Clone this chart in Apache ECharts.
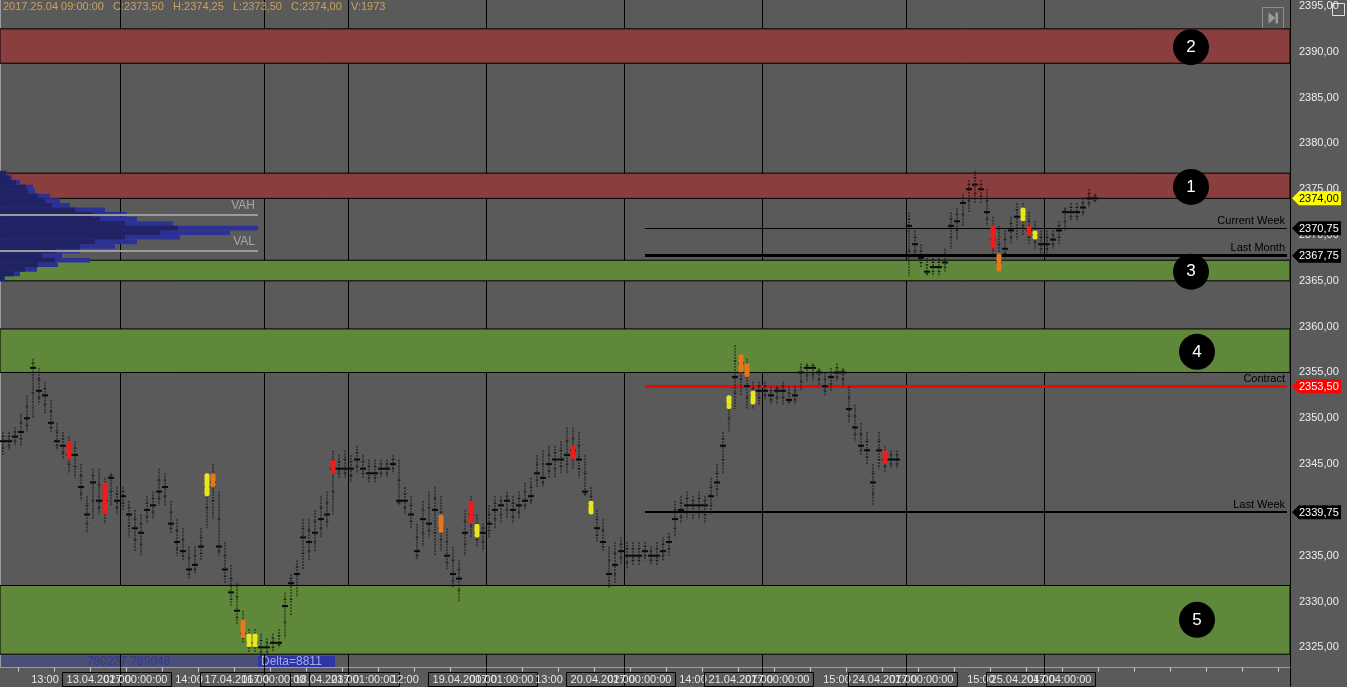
<!DOCTYPE html>
<html><head><meta charset="utf-8">
<script src="https://cdn.jsdelivr.net/npm/echarts/dist/echarts.min.js"></script>
<style>html,body{margin:0;padding:0;background:#5a5a5a;}#c{width:1347px;height:687px;}</style>
</head><body><div id="c"></div>
<script>
// ---------- data ----------
const slotCount = 215;
const lows = [
 2346.0,2346.5,2347.0,2347.0,2348.5,2350.0,2351.5,2350.5,2348.5,2346.5,
 2345.5,2344.0,2343.5,2341.0,2337.5,2339.0,2339.5,2338.5,2340.5,2339.5,
 2340.0,2337.0,2335.5,2335.0,2338.5,2339.0,2340.5,2340.5,2337.5,2335.0,
 2334.5,2332.5,2333.0,2334.5,2338.0,2339.0,2335.0,2332.0,2329.5,2327.5,
 2325.5,2324.5,2324.5,2324.0,2324.0,2324.5,2325.0,2326.0,2328.5,2330.5,
 2333.5,2334.5,2335.5,2337.0,2338.0,2339.5,2343.5,2343.5,2343.0,2344.0,
 2343.5,2343.0,2343.0,2343.5,2343.5,2344.0,2340.5,2339.5,2338.0,2334.5,
 2336.0,2337.0,2335.0,2335.5,2333.5,2331.5,2330.0,2335.0,2337.0,2336.0,
 2335.5,2337.0,2338.0,2338.5,2339.0,2338.5,2339.0,2340.0,2340.5,2342.5,
 2342.5,2343.5,2343.5,2344.0,2344.0,2344.5,2343.5,2341.5,2339.5,2336.5,
 2335.5,2331.5,2332.0,2334.0,2333.5,2334.0,2334.0,2334.5,2334.0,2334.0,
 2334.5,2335.0,2337.0,2338.5,2339.0,2339.0,2339.0,2338.5,2339.5,2341.5,
 2344.0,2348.5,2351.0,2352.5,2351.0,2351.0,2351.5,2352.0,2351.5,2351.5,
 2351.5,2351.5,2351.5,2353.0,2354.0,2354.0,2353.5,2352.5,2353.0,2354.0,
 2353.5,2349.5,2347.5,2346.0,2345.0,2340.5,2344.5,2344.0,2344.5,2344.5,
 null,2365.5,2367.5,2366.5,2365.5,2365.5,2365.5,2366.0,2368.5,2369.5,
 2371.0,2372.5,2373.5,2373.5,2371.0,2367.5,2366.0,2367.5,2369.0,2369.5,
 2370.0,2369.0,2368.5,2368.0,2368.0,2368.5,2369.0,2370.5,2371.5,2371.5,
 2372.0,2373.0,2373.5];
const highs = [
 2348.5,2348.5,2349.0,2350.5,2352.5,2356.5,2355.5,2354.0,2352.0,2349.5,
 2348.5,2348.0,2347.5,2345.0,2341.5,2344.5,2344.5,2343.5,2344.0,2342.5,
 2342.5,2341.0,2340.0,2339.5,2341.5,2342.0,2344.5,2344.0,2341.0,2339.0,
 2338.0,2336.0,2336.0,2338.0,2344.0,2345.0,2342.0,2336.5,2334.0,2332.0,
 2329.0,2327.0,2327.0,2326.5,2326.0,2326.5,2327.0,2331.0,2333.0,2334.5,
 2339.0,2339.0,2340.0,2341.5,2342.0,2346.5,2346.0,2346.5,2346.0,2347.0,
 2346.0,2345.5,2345.5,2345.5,2345.5,2346.0,2345.5,2342.5,2341.5,2338.5,
 2341.0,2342.0,2342.5,2341.5,2338.0,2336.0,2334.5,2340.0,2341.5,2339.5,
 2338.5,2340.5,2341.5,2341.5,2342.0,2341.5,2342.0,2343.0,2343.5,2346.0,
 2346.5,2347.0,2347.0,2347.5,2349.0,2349.0,2348.5,2346.0,2342.5,2340.0,
 2339.0,2336.0,2336.5,2337.0,2336.5,2336.5,2336.5,2336.5,2336.0,2336.5,
 2337.0,2337.5,2341.0,2341.5,2342.0,2341.5,2342.0,2341.5,2343.5,2345.0,
 2348.5,2352.5,2358.0,2357.0,2356.5,2354.0,2354.0,2354.0,2353.5,2353.5,
 2354.0,2353.5,2353.5,2356.0,2356.0,2356.0,2355.5,2355.0,2355.5,2356.0,
 2355.5,2353.5,2351.5,2349.5,2348.5,2345.0,2348.5,2347.0,2346.5,2346.5,
 null,2372.5,2370.5,2369.0,2367.5,2367.5,2367.5,2368.5,2372.5,2373.0,
 2374.5,2376.0,2377.0,2376.0,2375.0,2372.0,2371.0,2370.5,2372.0,2373.5,
 2373.5,2372.5,2371.5,2370.5,2370.5,2370.5,2371.5,2373.0,2373.5,2373.5,
 2374.0,2375.0,2374.5];
const closes = [
 2347.5,2347.5,2348.0,2348.5,2350.0,2355.5,2353.0,2352.5,2349.5,2347.5,
 2347.0,2346.0,2346.0,2342.5,2339.5,2343.0,2341.0,2341.0,2343.5,2341.0,
 2341.5,2339.5,2338.0,2337.5,2340.0,2340.5,2342.0,2342.5,2338.5,2336.5,
 2335.5,2333.5,2334.0,2336.0,2342.5,2343.0,2336.0,2333.5,2331.0,2329.0,
 2326.5,2325.5,2325.5,2325.0,2325.0,2325.5,2325.5,2329.5,2332.0,2333.0,
 2337.0,2336.5,2337.5,2339.0,2339.5,2344.5,2344.5,2344.5,2344.5,2345.5,
 2344.5,2344.0,2344.0,2344.5,2344.5,2345.0,2341.0,2341.0,2339.5,2335.5,
 2339.0,2338.5,2340.0,2338.0,2335.0,2333.0,2332.5,2337.5,2339.5,2337.5,
 2337.5,2338.5,2340.0,2340.5,2341.0,2340.0,2340.5,2341.0,2341.5,2344.0,
 2343.5,2345.0,2345.5,2345.5,2346.0,2346.5,2345.5,2342.0,2340.5,2338.0,
 2336.5,2333.0,2334.0,2335.5,2335.0,2335.0,2335.0,2335.5,2335.0,2335.0,
 2335.5,2336.5,2339.0,2340.0,2340.5,2340.5,2340.5,2340.5,2341.5,2343.0,
 2347.0,2351.5,2354.5,2356.0,2353.5,2352.5,2353.0,2353.0,2352.5,2353.0,
 2353.0,2352.0,2352.5,2355.0,2355.5,2355.5,2355.0,2353.5,2354.5,2355.0,
 2355.0,2351.0,2349.0,2347.0,2346.5,2343.0,2346.5,2345.5,2345.5,2345.5,
 null,2371.0,2369.0,2367.5,2366.0,2366.5,2366.5,2367.0,2371.0,2371.5,
 2373.5,2375.0,2375.5,2375.0,2372.5,2369.5,2367.0,2368.5,2370.5,2372.0,
 2372.0,2370.5,2370.0,2369.0,2369.0,2369.5,2370.5,2372.5,2372.5,2372.5,
 2373.0,2374.0,2374.0];
// highlighted (imbalance) bars: [barIndex, low, high, colorKey]
const highlights = [
 [11,2345.5,2347.5,'r'],[17,2339.5,2343.0,'r'],[34,2341.5,2344.0,'y'],[35,2342.5,2344.0,'o'],
 [40,2326.0,2328.0,'o'],[41,2325.0,2326.5,'y'],[42,2325.0,2326.5,'y'],[55,2344.0,2345.5,'r'],
 [73,2337.5,2339.5,'o'],[78,2338.5,2341.0,'r'],[79,2337.0,2338.5,'y'],[95,2345.5,2347.0,'r'],
 [98,2339.5,2341.0,'y'],[121,2351.0,2352.5,'y'],[123,2355.0,2357.0,'o'],[124,2354.5,2356.0,'o'],
 [125,2351.5,2353.0,'y'],[147,2345.0,2346.5,'r'],[165,2368.5,2371.0,'r'],[166,2366.0,2368.0,'o'],
 [170,2371.5,2373.0,'y'],[171,2370.0,2371.0,'r'],[172,2369.5,2370.5,'y']];
// volume profile
const profilePrice = [2376.75,2376.25,2375.75,2375.25,2374.75,2374.25,2373.75,2373.25,2372.75,2372.25,2371.75,2371.25,
 2370.75,2370.25,2369.75,2369.25,2368.75,2368.25,2367.75,2367.25,2366.75,2366.25,2365.75,2365.25];
const profileTotal = [7,12,20,33,35,50,60,70,105,127,137,173,258,230,180,137,115,80,62,90,58,37,20,5];
const profileInner = [6,10,16,26,28,38,45,52,75,92,100,125,178,160,125,95,80,56,42,55,38,25,14,4];
const vah = 2372.25, val = 2368.25;
// zones
const zoneFrom = [2392.5, 2376.75, 2367.25, 2359.75, 2331.75];
const zoneTo   = [2388.75, 2374.0, 2365.0, 2355.0, 2324.25];
const zoneKind = ['red','red','green','green','green'];
const zoneNum  = ['2','1','3','4','5'];
const zoneMark = [2390.5, 2375.25, 2366.0, 2357.25, 2328.0];
const zoneMarkIdx = [198, 198, 198, 199, 199];
// reference levels
const levelName = ['Current Week','Last Month','Contract','Last Week'];
const levelValue = [2370.75, 2367.75, 2353.50, 2339.75];
const levelStart = 107;
// price tags on the axis
const tagValue = [2374.00, 2370.75, 2367.75, 2353.50, 2339.75];
const tagBg = ['#ffff00','#000000','#000000','#ff0000','#000000'];
const tagFg = ['#000000','#ffffff','#ffffff','#ffffff','#ffffff'];
// axis ticks / labels
const yTicks = [2325,2330,2335,2340,2345,2350,2355,2360,2365,2370,2375,2380,2385,2390,2395];
const timeIdx = [7,31,67,91,115,139,163];
const timeText = ['13:00','14:00','12:00','13:00','14:00','15:00','15:00'];
const dateIdx = [19,42,57,80,103,126,150,173];
const dateText = ['13.04.2017 00:00:00','17.04.2017 00:00:00','18.04.2017 01:00:00','19.04.2017 01:00:00',
 '20.04.2017 00:00:00','21.04.2017 00:00:00','24.04.2017 00:00:00','25.04.2017 04:00:00'];
const dateOverlay = ['02:00','16:00','23:00','00:00','02:00','07:00','07:00','04:00'];
const dayBreakIdx = [20,44,58,81,104,127,151,174];
const header = '2017.25.04 09:00:00   C:2373,50   H:2374,25   L:2373,50   C:2374,00   V:1973';

// ---------- chart ----------
const FONT = 'Liberation Sans';
const cats = Array.from({length: slotCount}, (_, i) => String(i));
const hlColor = {r:'#ee1c1c', o:'#e8761a', y:'#e8e61c'};
const fmt = v => v.toFixed(2).replace('.', ',');

const barData = [];
lows.forEach((l, i) => { if (l !== null) barData.push([i, l, highs[i], closes[i]]); });

const chart = echarts.init(document.getElementById('c'));
chart.setOption({
  animation: false,
  backgroundColor: '#5a5a5a',
  textStyle: {fontFamily: FONT},
  title: {text: header, left: 3, top: 1, padding: 0,
    textStyle: {color: '#c9a25e', fontSize: 11, fontWeight: 'normal', fontFamily: FONT}},
  grid: {left: 0, right: 57, top: 0, bottom: 19, containLabel: false},
  xAxis: [
    {type: 'category', data: cats, position: 'bottom', boundaryGap: true,
     axisLine: {show: true, lineStyle: {color: '#9c9c9c', width: 1}},
     axisTick: {show: true, interval: (i) => i % 6 === 3, length: 4, lineStyle: {color: '#d0d0d0'}},
     axisLabel: {interval: 0, margin: 5, color: '#e6e6e6', fontSize: 11, fontFamily: FONT,
       formatter: (v, idx) => {
         const t = timeIdx.indexOf(idx); if (t >= 0) return '{t|' + timeText[t] + '}';
         const d = dateIdx.indexOf(idx); if (d >= 0) return '{b|' + dateText[d] + '}';
         return '';
       },
       rich: {t: {color: '#e6e6e6', fontSize: 11, padding: [2, 0, 1, 0], fontFamily: FONT},
              b: {color: '#e6e6e6', fontSize: 11, borderColor: '#000', borderWidth: 1, padding: [2, 4, 1, 4], fontFamily: FONT}}},
     splitLine: {show: false}},
    {type: 'category', data: cats, position: 'bottom', boundaryGap: true,
     axisLine: {show: false},
     axisTick: {show: true, interval: (i) => dayBreakIdx.indexOf(i) >= 0, length: 19, lineStyle: {color: '#000'}},
     axisLabel: {interval: 0, margin: 5, fontSize: 11, fontFamily: FONT,
       formatter: (v, idx) => { const d = dateIdx.indexOf(idx); return d >= 0 ? '{o|' + dateOverlay[d] + '}' : ''; },
       rich: {o: {color: '#e6e6e6', fontSize: 11, padding: [2, 0, 1, 0], fontFamily: FONT}}},
     splitLine: {show: true, interval: (i) => dayBreakIdx.indexOf(i) >= 0, lineStyle: {color: '#000', width: 1}}},
    {type: 'value', position: 'top', min: 0, max: 1290, show: false}
  ],
  yAxis: [{type: 'value', position: 'right', min: 2322.8, max: 2395.65, scale: true,
    axisLine: {show: true, lineStyle: {color: '#9c9c9c'}},
    axisTick: {show: false},
    splitLine: {show: false},
    axisLabel: {customValues: yTicks, margin: 9, color: '#ededed', fontSize: 11, fontFamily: FONT,
      formatter: v => (Math.abs(v % 5) < 1e-6 ? fmt(v) : '')}}],
  series: [
    // zones
    {type: 'line', data: [], xAxisIndex: 0, yAxisIndex: 0, z: -1, silent: true,
     markArea: {silent: true, data: zoneFrom.map((f, k) => [
       {yAxis: f, itemStyle: {color: zoneKind[k] === 'red' ? '#8a3e3e' : '#5f883b', borderColor: '#000', borderWidth: 1}},
       {yAxis: zoneTo[k]}])}},
    // volume profile (outer)
    {type: 'custom', xAxisIndex: 2, yAxisIndex: 0, z: 3, silent: true,
     data: profilePrice.map((p, k) => [profileTotal[k], p]),
     renderItem: (params, api) => {
       const p = api.value(1);
       const a = api.coord([0, p + 0.25]), b = api.coord([api.value(0), p - 0.25]);
       return {type: 'rect', shape: {x: a[0], y: a[1], width: b[0] - a[0], height: b[1] - a[1]}, style: {fill: '#2c3196'}};
     }},
    // volume profile (inner)
    {type: 'custom', xAxisIndex: 2, yAxisIndex: 0, z: 3, silent: true,
     data: profilePrice.map((p, k) => [profileInner[k], p]),
     renderItem: (params, api) => {
       const p = api.value(1);
       const a = api.coord([0, p + 0.25]), b = api.coord([api.value(0), p - 0.25]);
       return {type: 'rect', shape: {x: a[0], y: a[1], width: b[0] - a[0], height: b[1] - a[1]}, style: {fill: '#1f2263'}};
     }},
    // VAH / VAL
    {type: 'line', data: [], xAxisIndex: 2, yAxisIndex: 0, z: 4, silent: true,
     markLine: {silent: true, symbol: ['none', 'none'],
       lineStyle: {color: '#9a9a9a', width: 2, type: 'solid'},
       label: {show: true, position: 'insideEndTop', formatter: '{b}', color: '#a8a8a8', fontSize: 12, fontFamily: FONT, distance: 3},
       data: [[{coord: [0, vah], name: 'VAH'}, {coord: [Math.max(...profileTotal), vah]}],
              [{coord: [0, val], name: 'VAL'}, {coord: [Math.max(...profileTotal), val]}]]}},
    // price bars
    {type: 'custom', xAxisIndex: 0, yAxisIndex: 0, z: 5, silent: true, data: barData,
     encode: {x: 0, y: [1, 2, 3]},
     renderItem: (params, api) => {
       const i = api.value(0);
       const t = api.coord([i, api.value(2)]), b = api.coord([i, api.value(1)]), c = api.coord([i, api.value(3)]);
       return {type: 'group', children: [
         {type: 'line', shape: {x1: t[0], y1: t[1], x2: b[0], y2: b[1]}, style: {stroke: 'rgba(10,10,10,0.85)', lineWidth: 1, lineDash: [2, 1]}},
         {type: 'line', shape: {x1: t[0] - 1.5, y1: (t[1] + c[1]) / 2, x2: t[0] + 1.5, y2: (t[1] + c[1]) / 2}, style: {stroke: 'rgba(10,10,10,0.7)', lineWidth: 1}},
         {type: 'line', shape: {x1: t[0] - 1.5, y1: (b[1] + c[1]) / 2, x2: t[0] + 1.5, y2: (b[1] + c[1]) / 2}, style: {stroke: 'rgba(10,10,10,0.7)', lineWidth: 1}},
         {type: 'rect', shape: {x: c[0] - 3, y: c[1] - 1, width: 6, height: 2}, style: {fill: '#0a0a0a'}}
       ]};
     }},
    // highlighted bars
    {type: 'custom', xAxisIndex: 0, yAxisIndex: 0, z: 6, silent: true,
     data: highlights.map(h => [h[0], h[1], h[2]]),
     renderItem: (params, api) => {
       const i = api.value(0);
       const t = api.coord([i, api.value(2)]), b = api.coord([i, api.value(1)]);
       const col = hlColor[highlights[params.dataIndex][3]];
       return {type: 'rect', shape: {x: t[0] - 2.5, y: t[1], width: 5, height: b[1] - t[1], r: 2}, style: {fill: col}};
     }},
    // reference levels
    {type: 'line', data: [], xAxisIndex: 0, yAxisIndex: 0, z: 7, silent: true,
     markLine: {silent: true, symbol: ['none', 'none'],
       label: {show: true, position: 'insideEndTop', formatter: '{b}', color: '#000', fontSize: 11, fontFamily: FONT, distance: 2},
       data: levelName.map((n, k) => [
         {coord: [levelStart, levelValue[k]], name: n,
          lineStyle: {type: 'solid', color: n === 'Contract' ? '#ff0000' : '#000', width: [1, 3, 3, 2][k]}},
         {coord: [slotCount - 1, levelValue[k]]}])}},
    // zone numbers
    {type: 'scatter', xAxisIndex: 0, yAxisIndex: 0, z: 8, silent: true, symbolSize: 36,
     itemStyle: {color: '#000', opacity: 1},
     label: {show: true, position: 'inside', formatter: p => p.value[2], color: '#fff', fontSize: 17, fontFamily: FONT},
     data: zoneMark.map((v, k) => [zoneMarkIdx[k], v, zoneNum[k]])},
    // axis price tags
    {type: 'custom', xAxisIndex: 0, yAxisIndex: 0, z: 9, silent: true, clip: false,
     data: tagValue.map((v, k) => [0, v, k]),
     renderItem: (params, api) => {
       const cs = params.coordSys; const xr = cs.x + cs.width;
       const y = api.coord([0, api.value(1)])[1]; const k = api.value(2);
       return {type: 'group', children: [
         {type: 'polygon', shape: {points: [[xr + 2, y], [xr + 9, y - 7], [xr + 51, y - 7], [xr + 51, y + 7], [xr + 9, y + 7]]},
          style: {fill: tagBg[k]}},
         {type: 'text', style: {text: fmt(api.value(1)), x: xr + 9, y: y + 0.5, fill: tagFg[k],
          font: '11px "Liberation Sans"', align: 'left', verticalAlign: 'middle', textAlign: 'left', textVerticalAlign: 'middle'}}
       ]};
     }}
  ],
  graphic: [
    {type: 'group', left: 1260, top: 5, children: [
      {type: 'rect', shape: {x: 0, y: 0, width: 21, height: 21}, style: {fill: 'none', stroke: '#8e8e8e', lineWidth: 1}},
      {type: 'polygon', shape: {points: [[6, 5], [13, 10.5], [6, 16]]}, style: {fill: '#9a9a9a'}},
      {type: 'rect', shape: {x: 13, y: 5, width: 2.5, height: 11}, style: {fill: '#9a9a9a'}}
    ]},
    {type: 'rect', left: 1330, top: 1, shape: {x: 0, y: 0, width: 12, height: 12}, style: {fill: 'none', stroke: '#e0e0e0', lineWidth: 1}},
    {type: 'rect', left: 0, top: 656, shape: {x: 0, y: 0, width: 258, height: 12}, style: {fill: 'rgba(70,76,130,0.75)'}},
    {type: 'text', left: 87, top: 656, style: {text: '780237 789048', fill: '#343a8c', font: '12px "Liberation Sans"'}},
    {type: 'rect', left: 258, top: 656, shape: {x: 0, y: 0, width: 77, height: 12}, style: {fill: '#2f35a6'}},
    {type: 'text', left: 261, top: 656, style: {text: 'Delta=8811', fill: '#a6aae6', font: '12px "Liberation Sans"'}}
  ]
});
</script></body></html>
